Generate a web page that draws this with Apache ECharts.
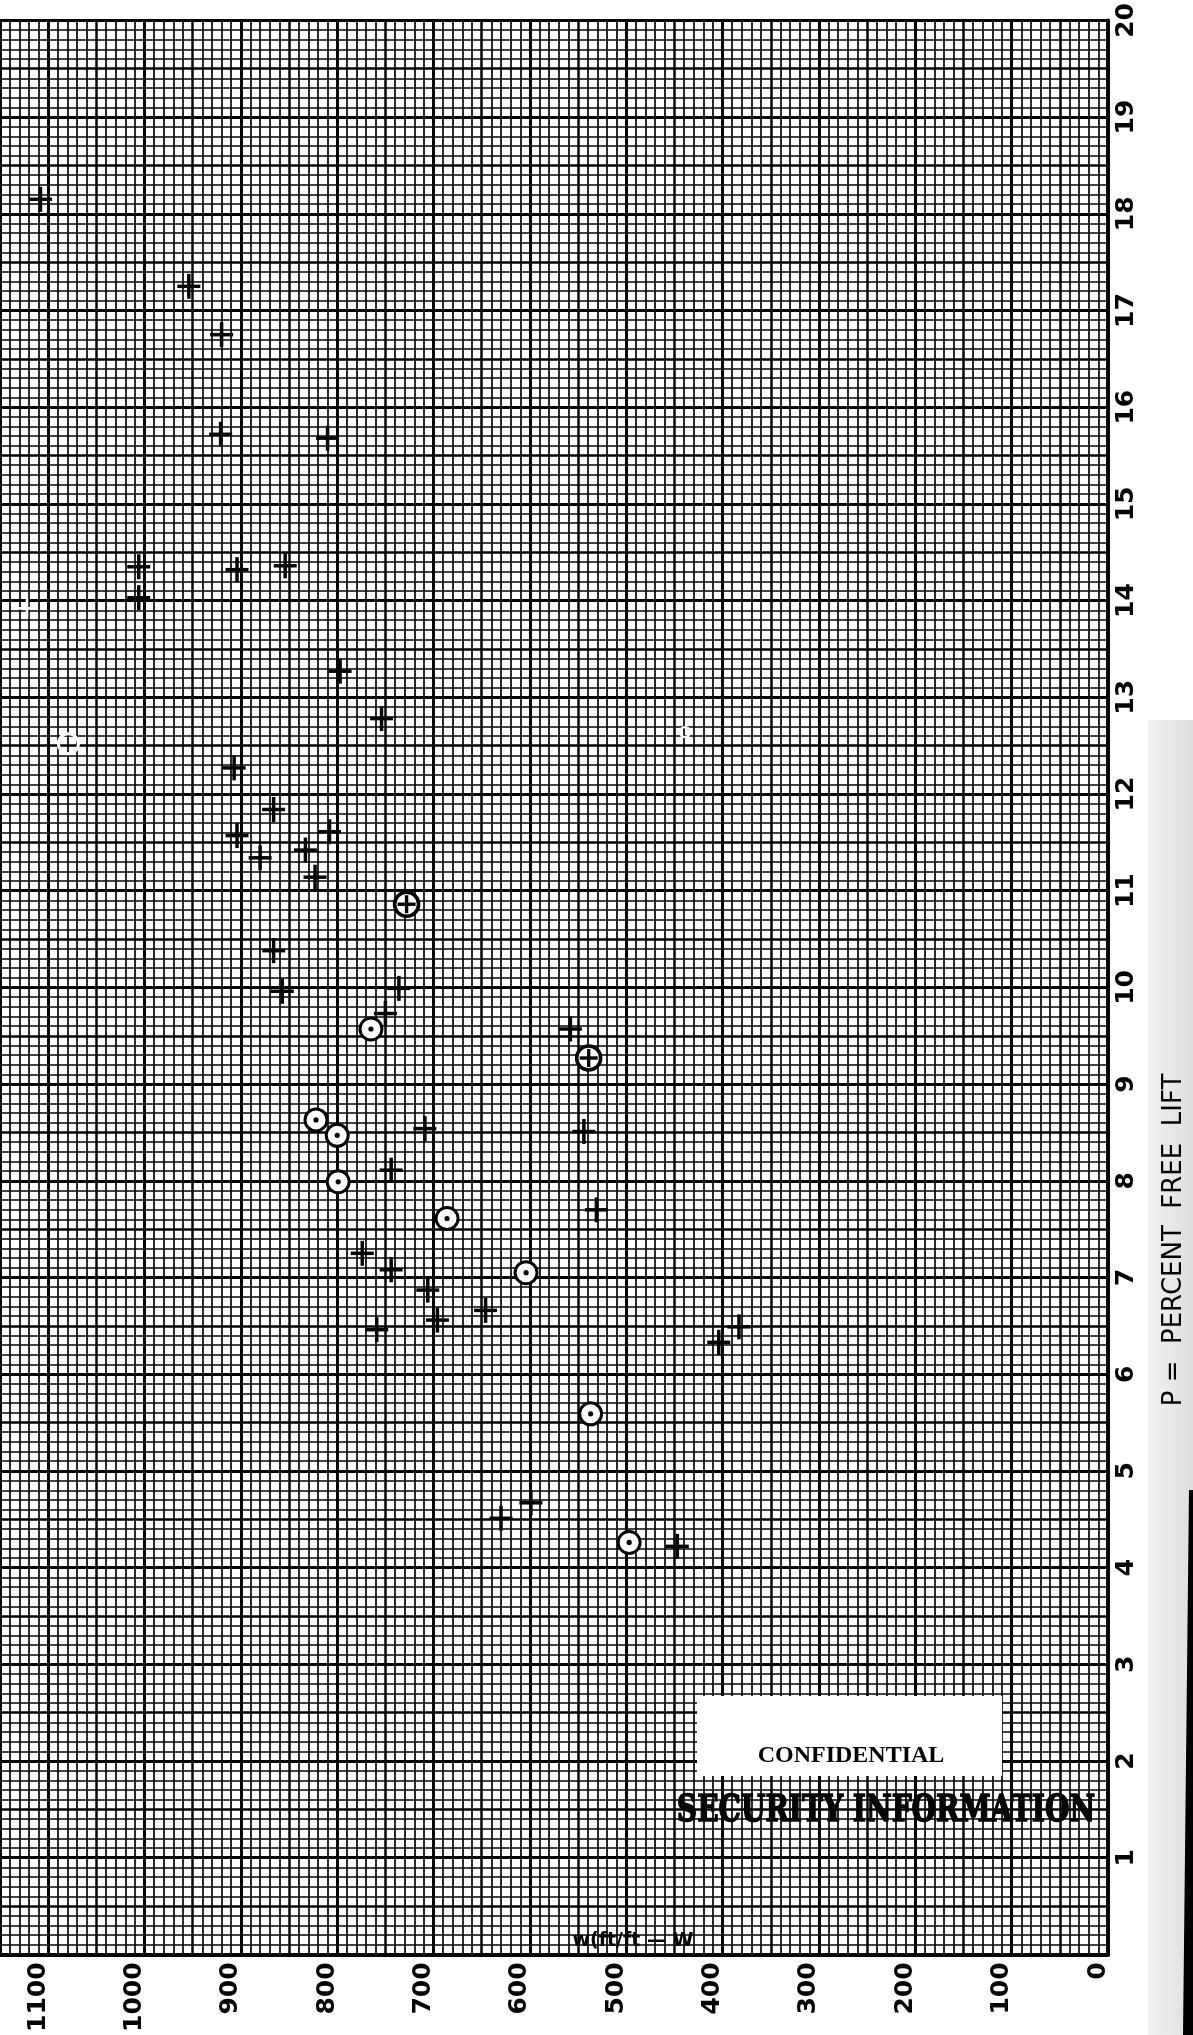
<!DOCTYPE html>
<html>
<head>
<meta charset="utf-8">
<title>Rate of rise vs percent free lift</title>
<script src="https://cdn.jsdelivr.net/npm/echarts@6/dist/echarts.min.js"></script>
<style>
  html, body { margin: 0; padding: 0; background: #fff; }
  #chart { width: 1193px; height: 2035px; }
</style>
</head>
<body>
<div id="chart"></div>
<script>
// Tick labels of the two scales
const rateTicks = [0, 100, 200, 300, 400, 500, 600, 700, 800, 900, 1000, 1100];
const liftTicks = [0, 1, 2, 3, 4, 5, 6, 7, 8, 9, 10, 11, 12, 13, 14, 15, 16, 17, 18, 19, 20];

// Plotted observations: [W (ft/min), P (percent free lift)]
const crossPoints = [
  [1108, 18.15], [954, 17.25], [920, 16.75], [921, 15.72], [810, 15.68],
  [1006, 14.35], [1006, 14.03], [904, 14.32], [854, 14.36], [797, 13.27],
  [754, 12.78], [907, 12.27], [866, 11.84], [904, 11.57], [880, 11.34],
  [808, 11.61], [833, 11.42], [823, 11.14], [866, 10.38], [857, 9.96],
  [736, 9.99], [750, 9.73], [558, 9.57], [709, 8.54], [544, 8.51],
  [744, 8.11], [531, 7.70], [774, 7.25], [744, 7.08], [706, 6.87],
  [696, 6.56], [759, 6.46], [646, 6.66], [404, 6.33], [383, 6.49],
  [630, 4.51], [599, 4.67], [447, 4.22]
];
const dotCirclePoints = [
  [765, 9.57], [822, 8.63], [800, 8.47], [799, 7.99], [686, 7.61],
  [604, 7.05], [537, 5.59], [497, 4.26]
];
const plusCirclePoints = [
  [728, 10.86], [539, 9.27]
];
// Marks that were rubbed out on the sheet (show as white traces)
const erasedCircles = [[1079, 12.52]];
const erasedCrosses = [[1122, 13.92]];
const erasedDots = [[439, 12.64]];

const ink = '#050505';
const sans = '"DejaVu Sans", "Noto Sans", sans-serif';

function drawCross(params, api) {
  const c = api.coord([api.value(0), api.value(1)]);
  return {
    type: 'group',
    children: [
      { type: 'line', shape: { x1: c[0] - 11.5, y1: c[1], x2: c[0] + 11.5, y2: c[1] }, style: { stroke: ink, lineWidth: 3.5 } },
      { type: 'line', shape: { x1: c[0], y1: c[1] - 12.5, x2: c[0], y2: c[1] + 12.5 }, style: { stroke: ink, lineWidth: 3.5 } }
    ]
  };
}
function drawDotCircle(params, api) {
  const c = api.coord([api.value(0), api.value(1)]);
  return {
    type: 'group',
    children: [
      { type: 'circle', shape: { cx: c[0], cy: c[1], r: 11 }, style: { fill: '#fff', stroke: ink, lineWidth: 3 } },
      { type: 'circle', shape: { cx: c[0], cy: c[1], r: 2.6 }, style: { fill: ink } }
    ]
  };
}
function drawPlusCircle(params, api) {
  const c = api.coord([api.value(0), api.value(1)]);
  return {
    type: 'group',
    children: [
      { type: 'circle', shape: { cx: c[0], cy: c[1], r: 12 }, style: { fill: '#fff', stroke: ink, lineWidth: 3.6 } },
      { type: 'line', shape: { x1: c[0] - 9, y1: c[1], x2: c[0] + 9, y2: c[1] }, style: { stroke: ink, lineWidth: 3.4 } },
      { type: 'line', shape: { x1: c[0], y1: c[1] - 9, x2: c[0], y2: c[1] + 9 }, style: { stroke: ink, lineWidth: 3.4 } }
    ]
  };
}
function drawErasedCircle(params, api) {
  const c = api.coord([api.value(0), api.value(1)]);
  return { type: 'circle', shape: { cx: c[0], cy: c[1], r: 10 }, style: { fill: 'none', stroke: '#fff', lineWidth: 3 } };
}
function drawErasedCross(params, api) {
  const c = api.coord([api.value(0), api.value(1)]);
  return {
    type: 'group',
    children: [
      { type: 'line', shape: { x1: c[0] - 9, y1: c[1], x2: c[0] + 9, y2: c[1] }, style: { stroke: '#fff', lineWidth: 2.6 } },
      { type: 'line', shape: { x1: c[0], y1: c[1] - 10, x2: c[0], y2: c[1] + 10 }, style: { stroke: '#fff', lineWidth: 2.6 } }
    ]
  };
}
function drawErasedDot(params, api) {
  const c = api.coord([api.value(0), api.value(1)]);
  return { type: 'circle', shape: { cx: c[0], cy: c[1], r: 5 }, style: { fill: 'none', stroke: '#fff', lineWidth: 2.4 } };
}

const chart = echarts.init(document.getElementById('chart'), null, { renderer: 'canvas' });

const option = {
  backgroundColor: '#fff',
  animation: false,
  grid: { left: -4.5, right: 85, top: 18, bottom: 69, containLabel: false },
  xAxis: [
    {
      type: 'value', min: 0, max: 1150, interval: 100, inverse: true, position: 'bottom',
      axisLine: { show: true, onZero: false, lineStyle: { color: ink, width: 4 } },
      axisTick: { show: false },
      axisLabel: {
        show: true, rotate: 90, margin: 8,
        // second, empty line lifts the number off the tick (reads as a shift to the left once rotated)
        formatter: v => (rateTicks.includes(v) ? '{n|' + v + '}\n{g| }' : ''),
        rich: {
          n: { color: ink, fontSize: 25, fontWeight: 'bold', fontFamily: sans, lineHeight: 30 },
          g: { fontSize: 10, lineHeight: 20 }
        }
      },
      splitLine: { show: true, lineStyle: { color: ink, width: 3 } }
    },
    {
      type: 'value', min: 0, max: 1150, interval: 50, inverse: true, position: 'bottom',
      axisLine: { show: false }, axisTick: { show: false }, axisLabel: { show: false },
      splitLine: { show: true, lineStyle: { color: ink, width: 2.5 } },
      minorTick: { show: false, splitNumber: 5 },
      minorSplitLine: { show: true, lineStyle: { color: ink, width: 1.7 } }
    }
  ],
  yAxis: [
    {
      type: 'value', min: 0, max: 20, interval: 1, position: 'right',
      axisLine: { show: true, onZero: false, lineStyle: { color: ink, width: 4 } },
      axisTick: { show: false },
      axisLabel: {
        show: true, rotate: 90, margin: 6, color: ink, fontSize: 25, fontWeight: 'bold',
        fontFamily: sans,
        formatter: v => (liftTicks.includes(v) && v !== 0 ? String(v) : '')
      },
      splitLine: { show: true, lineStyle: { color: ink, width: 3 } }
    },
    {
      type: 'value', min: 0, max: 20, interval: 0.5, position: 'right',
      axisLine: { show: false }, axisTick: { show: false }, axisLabel: { show: false },
      splitLine: { show: true, lineStyle: { color: ink, width: 2.6 } },
      minorTick: { show: false, splitNumber: 5 },
      minorSplitLine: { show: true, lineStyle: { color: ink, width: 1.7 } }
    }
  ],
  series: [
    { type: 'custom', name: 'erased circle', data: erasedCircles, renderItem: drawErasedCircle, xAxisIndex: 0, yAxisIndex: 0, z: 3, silent: true },
    { type: 'custom', name: 'erased cross', data: erasedCrosses, renderItem: drawErasedCross, xAxisIndex: 0, yAxisIndex: 0, z: 3, silent: true },
    { type: 'custom', name: 'erased dot', data: erasedDots, renderItem: drawErasedDot, xAxisIndex: 0, yAxisIndex: 0, z: 3, silent: true },
    { type: 'custom', name: 'cross', data: crossPoints, renderItem: drawCross, xAxisIndex: 0, yAxisIndex: 0, z: 5, silent: true },
    { type: 'custom', name: 'circle', data: dotCirclePoints, renderItem: drawDotCircle, xAxisIndex: 0, yAxisIndex: 0, z: 5, silent: true },
    { type: 'custom', name: 'circle plus', data: plusCirclePoints, renderItem: drawPlusCircle, xAxisIndex: 0, yAxisIndex: 0, z: 5, silent: true }
  ],
  graphic: [
    // faint scanner shading along the right margin
    {
      type: 'rect', z: 1, silent: true,
      shape: { x: 1148, y: 720, width: 45, height: 1315 },
      style: {
        fill: new echarts.graphic.LinearGradient(0, 0, 1, 0, [
          { offset: 0, color: 'rgba(0,0,0,0.05)' },
          { offset: 1, color: 'rgba(0,0,0,0.13)' }
        ])
      }
    },
    {
      type: 'polygon', z: 2, silent: true,
      shape: { points: [[1189, 1490], [1193, 1490], [1193, 2035], [1183, 2035]] },
      style: { fill: '#000' }
    },
    // axis title on the right
    {
      type: 'text', z: 10, silent: true,
      x: 1174, y: 1240, rotation: Math.PI / 2,
      style: {
        text: 'P =  PERCENT  FREE  LIFT', fill: ink,
        font: '26px "DejaVu Sans", sans-serif',
        align: 'center', verticalAlign: 'middle'
      }
    },
    // W scale caption inside the grid
    {
      type: 'text', z: 10, silent: true,
      x: 633, y: 1941,
      style: {
        text: 'w(ft/ft — W', fill: ink,
        font: 'bold 19px "DejaVu Sans", sans-serif',
        align: 'center', verticalAlign: 'middle'
      }
    },
    // classification stamp
    {
      type: 'rect', z: 10, silent: true,
      shape: { x: 697, y: 1696, width: 305, height: 80 },
      style: { fill: '#fff' }
    },
    {
      type: 'text', z: 11, silent: true,
      x: 851, y: 1756,
      style: {
        text: 'CONFIDENTIAL', fill: ink,
        font: 'bold 24px "Liberation Serif", serif',
        align: 'center', verticalAlign: 'middle'
      }
    },
    {
      type: 'text', z: 11, silent: true,
      x: 886, y: 1811, scaleX: 0.74, originX: 0, originY: 0,
      style: {
        text: 'SECURITY INFORMATION', fill: ink,
        font: 'bold 38px "DejaVu Serif", serif',
        align: 'center', verticalAlign: 'middle',
        stroke: ink, lineWidth: 1.6,
        shadowBlur: 2, shadowColor: 'rgba(0,0,0,0.9)'
      }
    }
  ]
};

chart.setOption(option);
</script>
</body>
</html>
